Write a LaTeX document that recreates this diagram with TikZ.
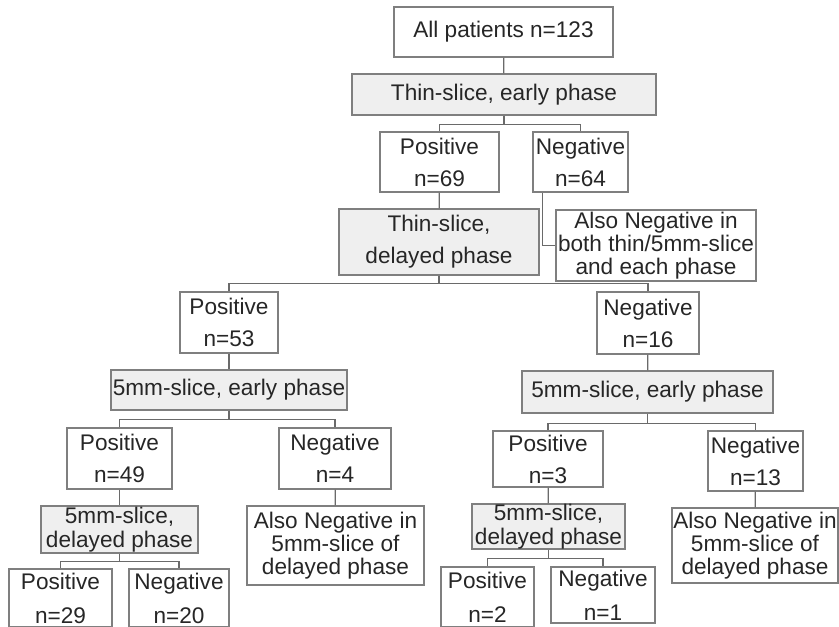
\documentclass[tikz,border=0pt]{standalone}
\usepackage{fontspec}
\setmainfont{Liberation Sans}
\definecolor{boxline}{HTML}{7F7F7F}
\definecolor{linkline}{HTML}{6A6A6A}
\definecolor{testfill}{HTML}{EFEFEF}
\definecolor{txt}{HTML}{262626}
\tikzset{
    result/.style={draw=boxline, line width=0.6pt, text=txt, align=center,
        inner sep=0pt, font=\fontsize{11.3}{16}\selectfont},
    test/.style={result, fill=testfill},
    size/.style 2 args={minimum width=#1*0.5pt, minimum height=#2*0.5pt},
    link/.style={draw=linkline, line width=0.6pt},
}
\begin{document}
\begin{tikzpicture}[x=0.5pt, y=-0.5pt]
    \useasboundingbox (0,0) rectangle (839,626) ;
    \clip (0,0) rectangle (839,626) ;
    % first test on all patients
    \node[result, size={219}{50}] (all) at (503.5,32) {All patients n=123} ;
    \node[test, size={304}{41}] (tse) at (504,94.5) {Thin-slice, early phase} ;
    \node[result, size={119}{60}] (pos69) at (439.5,162) {Positive\\n=69} ;
    \node[result, size={95}{60}] (neg64) at (580.5,162) {Negative\\n=64} ;
    \node[test, size={200}{66}] (tsd) at (439,242) {Thin-slice,\\delayed phase} ;
    \node[result, size={200}{71}, font=\fontsize{11.3}{11.5}\selectfont] (alsoA) at (656,245.5)
        {Also Negative in\\both thin/5mm-slice\\and each phase} ;
    % second level
    \node[result, size={98}{61}] (pos53) at (229,322.5) {Positive\\n=53} ;
    \node[result, size={102}{62}] (neg16) at (648,323) {Negative\\n=16} ;
    \node[test, size={236}{40}] (fmeL) at (229,390) {5mm-slice, early phase} ;
    \node[test, size={251}{42}] (fmeR) at (647.5,392) {5mm-slice, early phase} ;
    \node[result, size={105}{61}] (pos49) at (119.5,458.5) {Positive\\n=49} ;
    \node[result, size={112}{61}] (neg4) at (335,458.5) {Negative\\n=4} ;
    \node[result, size={110}{56}] (pos3) at (548,459) {Positive\\n=3} ;
    \node[result, size={95}{60}] (neg13) at (755.5,461) {Negative\\n=13} ;
    \node[test, size={157}{47}, font=\fontsize{11.3}{12}\selectfont] (fmdL) at (119.5,529.5)
        {5mm-slice,\\delayed phase} ;
    \node[test, size={153}{45}, font=\fontsize{11.3}{12}\selectfont] (fmdR) at (548.5,526.5)
        {5mm-slice,\\delayed phase} ;
    \node[result, size={177}{79}, font=\fontsize{11.3}{11.5}\selectfont] (alsoL) at (335.5,545.5)
        {Also Negative in\\5mm-slice of\\delayed phase} ;
    \node[result, size={166}{75}, font=\fontsize{11.3}{11.5}\selectfont] (alsoR) at (755,545.5)
        {Also Negative in\\5mm-slice of\\delayed phase} ;
    % last level, cut by the lower edge
    \node[result, size={103}{58}, font=\fontsize{11.3}{17}\selectfont] (pos29) at (60.5,598) {Positive\\n=29} ;
    \node[result, size={100}{58}, font=\fontsize{11.3}{17}\selectfont] (neg20) at (179,598) {Negative\\n=20} ;
    \node[result, size={93}{60}, font=\fontsize{11.3}{17}\selectfont] (pos2) at (487.5,597) {Positive\\n=2} ;
    \node[result, size={104}{56}, font=\fontsize{11.3}{17}\selectfont] (neg1) at (603,595) {Negative\\n=1} ;
    % connectors
    \draw[link] (all) -- (tse) ;
    \draw[link] (tse.south) -- ++(0,9) -| (pos69.north) ;
    \draw[link] (tse.south) -- ++(0,9) -| (neg64.north) ;
    \draw[link] (pos69) -- (tsd) ;
    \draw[link] ([xshift=5pt]neg64.south west) |- (alsoA.west) ;
    \draw[link] (tsd.south) -- ++(0,8) -| (pos53.north) ;
    \draw[link] (tsd.south) -- ++(0,8) -| (neg16.north) ;
    \draw[link] (pos53) -- (fmeL) ;
    \draw[link] (neg16) -- (fmeR) ;
    \draw[link] (fmeL.south) -- ++(0,9) -| (pos49.north) ;
    \draw[link] (fmeL.south) -- ++(0,9) -| (neg4.north) ;
    \draw[link] (fmeR.south) -- ++(0,10) -| (pos3.north) ;
    \draw[link] (fmeR.south) -- ++(0,10) -| (neg13.north) ;
    \draw[link] (pos49) -- (fmdL) ;
    \draw[link] (neg4) -- (alsoL) ;
    \draw[link] (pos3) -- (fmdR) ;
    \draw[link] (neg13) -- (alsoR) ;
    \draw[link] (fmdL.south) -- ++(0,8) -| (pos29.north) ;
    \draw[link] (fmdL.south) -- ++(0,8) -| (neg20.north) ;
    \draw[link] (fmdR.south) -- ++(0,9) -| (pos2.north) ;
    \draw[link] (fmdR.south) -- ++(0,9) -| (neg1.north) ;
\end{tikzpicture}
\end{document}
